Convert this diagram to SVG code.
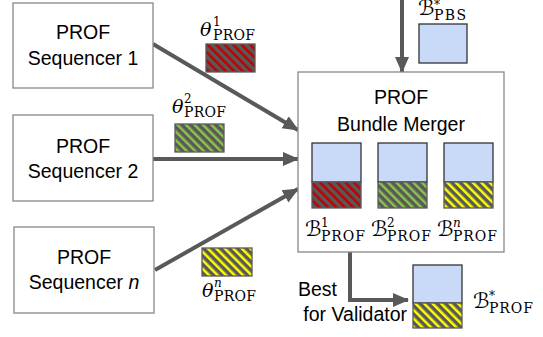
<svg xmlns="http://www.w3.org/2000/svg" width="543" height="337" viewBox="0 0 543 337">
<style>
.box{fill:#fff;stroke:#888;stroke-width:1.3}
.lbl{font-family:"Liberation Sans",Arial,sans-serif;font-size:19.5px;fill:#000;text-anchor:middle}
.conn{fill:none;stroke:#595959;stroke-width:4}
.blue{fill:#c9daf8;stroke:#333;stroke-width:1.3}
.hb{stroke:#595959;stroke-width:1.3}
.m{font-family:"DejaVu Serif","Liberation Serif",serif;fill:#000}
.big{font-size:19px;font-style:italic}
.cb{font-family:"DejaVu Sans","Noto Sans",sans-serif;font-size:21px;fill:#000}
.sm{font-size:12px}
.sub{font-size:14px}
</style>
<defs>
<pattern id="hr" width="6" height="6" patternUnits="userSpaceOnUse" patternTransform="rotate(-45)">
<rect width="6" height="6" fill="#595959"/><rect width="2.5" height="6" fill="#c00000"/>
</pattern>
<pattern id="hg" width="6" height="6" patternUnits="userSpaceOnUse" patternTransform="rotate(-45)">
<rect width="6" height="6" fill="#595959"/><rect width="2.5" height="6" fill="#8bc34a"/>
</pattern>
<pattern id="hy" width="6" height="6" patternUnits="userSpaceOnUse" patternTransform="rotate(-45)">
<rect width="6" height="6" fill="#595959"/><rect width="2.5" height="6" fill="#ffff00"/>
</pattern>
<marker id="ah" markerUnits="userSpaceOnUse" markerWidth="16" markerHeight="16" viewBox="0 0 16 16" refX="15" refY="8" orient="auto">
<path d="M0,1 L16,8 L0,15 Z" fill="#595959"/>
</marker>
</defs>

<g id="connectors">
<line class="conn" x1="153" y1="44" x2="298" y2="130" marker-end="url(#ah)"/>
<line class="conn" x1="153" y1="159" x2="298" y2="159" marker-end="url(#ah)"/>
<line class="conn" x1="155" y1="270" x2="298" y2="189" marker-end="url(#ah)"/>
<line class="conn" x1="402" y1="0" x2="402" y2="72" marker-end="url(#ah)"/>
<polyline class="conn" points="350,252 350,300 408,300" marker-end="url(#ah)"/>
</g>

<g id="seq1">
<rect class="box" x="13" y="3" width="140" height="85"/>
<text class="lbl" x="83" y="39">PROF</text>
<text class="lbl" x="83" y="65">Sequencer 1</text>
</g>
<g id="seq2">
<rect class="box" x="13" y="115" width="140" height="86"/>
<text class="lbl" x="83" y="153">PROF</text>
<text class="lbl" x="83" y="178">Sequencer 2</text>
</g>
<g id="seqn">
<rect class="box" x="14" y="227" width="140" height="86"/>
<text class="lbl" x="84" y="264">PROF</text>
<text class="lbl" x="84" y="289">Sequencer <tspan font-style="italic">n</tspan></text>
</g>

<g id="theta1">
<text class="m big" x="200" y="36">θ</text>
<text class="m sm" x="213" y="26">1</text>
<text class="m sub" x="213" y="40" textLength="42">PROF</text>
<rect class="hb" x="206" y="44" width="49" height="28" fill="url(#hr)"/>
</g>
<g id="theta2">
<text class="m big" x="172" y="113">θ</text>
<text class="m sm" x="184" y="103">2</text>
<text class="m sub" x="184" y="117" textLength="42">PROF</text>
<rect class="hb" x="175" y="124" width="49" height="28" fill="url(#hg)"/>
</g>
<g id="thetan">
<rect class="hb" x="202" y="248" width="50" height="28" fill="url(#hy)"/>
<text class="m big" x="202" y="297">θ</text>
<text class="m sm" x="214" y="287" font-style="italic">n</text>
<text class="m sub" x="214" y="301" textLength="42">PROF</text>
</g>

<g id="pbs">
<text class="cb" x="418" y="15">ℬ</text>
<text class="m sm" x="434" y="9">*</text>
<text class="m sub" x="434" y="20" textLength="32">PBS</text>
<rect class="blue" x="419" y="24" width="48" height="39"/>
</g>

<g id="merger">
<rect class="box" x="298" y="72" width="206" height="180"/>
<text class="lbl" x="401" y="104" font-size="20px">PROF</text>
<text class="lbl" x="401" y="131" font-size="20px">Bundle Merger</text>
<rect class="blue" x="312" y="143" width="49" height="39"/>
<rect class="hb" x="312" y="182" width="49" height="26" fill="url(#hr)"/>
<rect class="blue" x="378" y="143" width="49" height="39"/>
<rect class="hb" x="378" y="182" width="49" height="26" fill="url(#hg)"/>
<rect class="blue" x="444" y="143" width="49" height="39"/>
<rect class="hb" x="444" y="182" width="49" height="26" fill="url(#hy)"/>
<text class="cb" x="305" y="236">ℬ</text>
<text class="m sm" x="321" y="227">1</text>
<text class="m sub" x="321" y="241" textLength="44">PROF</text>
<text class="cb" x="371" y="236">ℬ</text>
<text class="m sm" x="387" y="227">2</text>
<text class="m sub" x="387" y="241" textLength="44">PROF</text>
<text class="cb" x="437" y="236">ℬ</text>
<text class="m sm" x="453" y="227" font-style="italic">n</text>
<text class="m sub" x="453" y="241" textLength="44">PROF</text>
</g>

<g id="best">
<text class="lbl" x="298" y="296" style="text-anchor:start">Best</text>
<text class="lbl" x="407" y="321" style="text-anchor:end">for Validator</text>
<rect class="blue" x="413" y="265" width="49" height="38"/>
<rect class="hb" x="413" y="303" width="49" height="25" fill="url(#hy)"/>
<text class="cb" x="473" y="308">ℬ</text>
<text class="m sm" x="489" y="300">*</text>
<text class="m sub" x="489" y="313" textLength="44">PROF</text>
</g>
</svg>
